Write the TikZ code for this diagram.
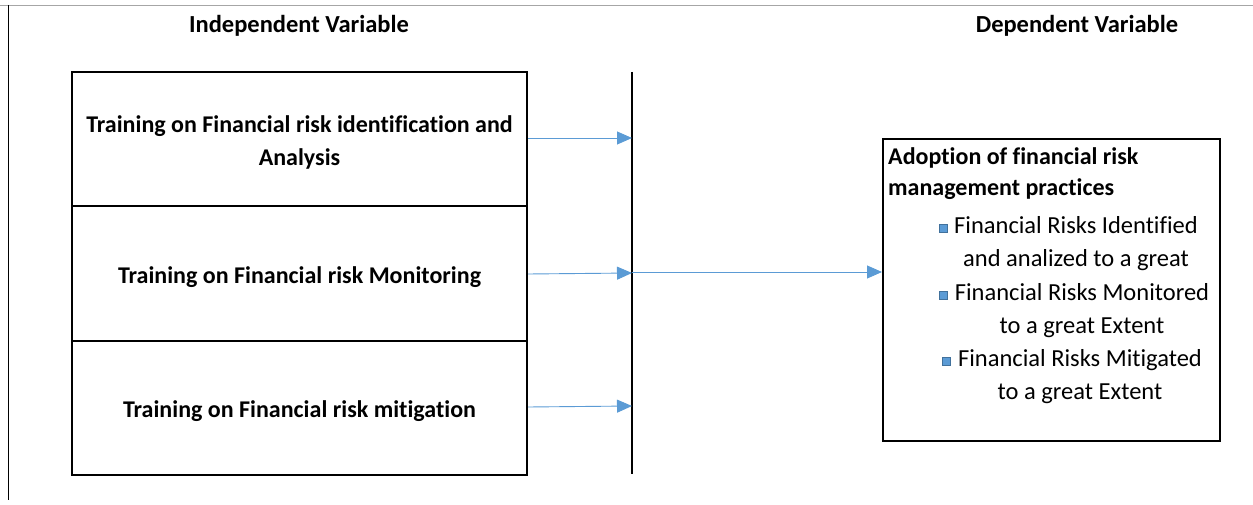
\documentclass[tikz,border=0pt]{standalone}
\usepackage{fontspec}
\setmainfont[Ligatures=NoCommon]{Carlito}
\usetikzlibrary{arrows.meta,positioning}
\definecolor{linkblue}{RGB}{91,155,213}
\definecolor{bulletedge}{RGB}{65,113,156}
\tikzset{
  ivbox/.style={draw,line width=2pt,minimum width=455pt,minimum height=134pt,inner sep=0pt},
  ivtext/.style={align=center,font=\fontsize{24}{33}\selectfont\bfseries,inner sep=0pt},
  linkarrow/.style={draw=linkblue,line width=0.9pt,-{Triangle[length=15pt,width=13pt]}},
  heading/.style={font=\fontsize{24.5}{28}\selectfont\bfseries},
  itembullet/.style={draw=bulletedge,fill=linkblue,minimum size=8pt,inner sep=0pt},
  itemtext/.style={align=center,font=\fontsize{24.5}{33}\selectfont,inner sep=0pt}
}
\begin{document}
\begin{tikzpicture}[x=1pt,y=-1pt]
  \useasboundingbox (0,0) rectangle (1253,505);
  % page frame lines
  \draw[gray!70,line width=0.8pt] (0,5) -- (1253,5);
  \draw[line width=0.5pt] (8,5) -- (8,500);
  % headings
  \node[heading] (indep) at (299,26) {Independent Variable};
  \node[heading] (dep) at (1077,26) {Dependent Variable};
  % independent variable boxes
  \node[ivbox] (ident) at (299.5,139.5) {};
  \node[ivbox,below=-2pt of ident] (monit) {};
  \node[ivbox,below=-2pt of monit] (mitig) {};
  \node[ivtext] (identtext) at ([yshift=-3pt]ident)
    {Training on Financial risk identification and\\Analysis};
  \node[ivtext] (monittext) at ([yshift=-3.5pt]monit) {Training on Financial risk Monitoring};
  \node[ivtext] (mitigtext) at ([yshift=-3.5pt]mitig) {Training on Financial risk mitigation};
  % vertical bar
  \coordinate (bartop) at (632,72);
  \coordinate (barbot) at (632,474);
  \draw[line width=2.6pt] (bartop) -- (barbot);
  % dependent variable box
  \node[draw,line width=2pt,minimum width=337pt,minimum height=302pt] (adopt) at (1051.5,290) {};
  \node[anchor=west,align=left,inner sep=0pt,
    font=\fontsize{24}{31}\selectfont\bfseries] (adtitle) at (888,174)
    {Adoption of financial risk\\management practices};
  \node[itemtext] (item1) at (1076,244) {Financial Risks Identified\\and analized to a great};
  \node[itemtext] (item2) at (1082,311) {Financial Risks Monitored\\to a great Extent};
  \node[itemtext] (item3) at (1080,377) {Financial Risks Mitigated\\to a great Extent};
  \node[itembullet] (bul1) at (943,228) {};
  \node[itembullet] (bul2) at (943,295) {};
  \node[itembullet] (bul3) at (946,361) {};
  % connectors
  \draw[linkarrow] (ident.east |- 0,138) -- (bartop |- 0,138);
  \draw[linkarrow] (monit.east |- 0,274) -- (bartop |- 0,273);
  \draw[linkarrow] (mitig.east |- 0,407) -- (bartop |- 0,406);
  \draw[linkarrow] (bartop |- 0,272) -- (adopt.west |- 0,272);
\end{tikzpicture}
\end{document}
